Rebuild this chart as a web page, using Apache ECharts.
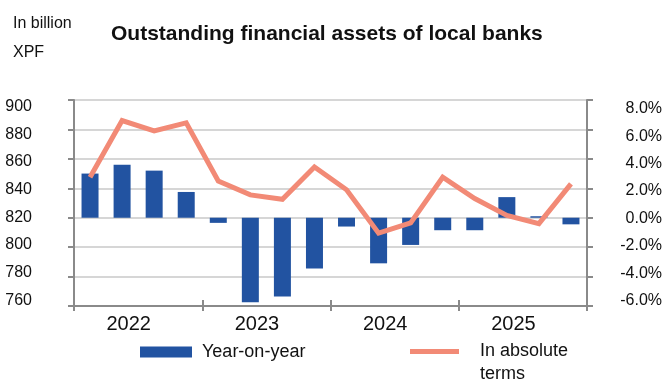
<!DOCTYPE html>
<html>
<head>
<meta charset="utf-8">
<script src="https://cdn.jsdelivr.net/npm/echarts@6/dist/echarts.min.js"></script>
<style>
  html, body { margin: 0; padding: 0; background: #ffffff; }
  #chart { width: 665px; height: 383px; }
</style>
</head>
<body>
<div id="chart"></div>
<script>
// Quarterly outstanding financial assets of local banks
const quarters = [
  'Q1 2022', 'Q2 2022', 'Q3 2022', 'Q4 2022',
  'Q1 2023', 'Q2 2023', 'Q3 2023', 'Q4 2023',
  'Q1 2024', 'Q2 2024', 'Q3 2024', 'Q4 2024',
  'Q1 2025', 'Q2 2025', 'Q3 2025', 'Q4 2025'
];
const years = ['2022', '2023', '2024', '2025'];

// Year-on-year change, in %
const yoyPct = [3.0, 3.6, 3.2, 1.75, -0.35, -5.75, -5.35, -3.45,
                -0.6, -3.1, -1.85, -0.85, -0.85, 1.4, 0.1, -0.45];

// Outstanding amount, in billion XPF
const outstanding = [847.5, 886, 879, 884.5, 845, 835.5, 832.5, 854.5,
                     839, 809.5, 816.5, 847.5, 833, 821.5, 816, 843];

// Axis ranges
const amountAxis = { min: 760, max: 900, interval: 20 };
const pctAxis = { min: -6, max: 8, interval: 2 };

const BLUE = '#2253a1';
const SALMON = '#f28a76';
const AXIS = '#8a8a8a';
const GRID = '#d6d6d6';
const TEXT = '#111111';
const SANS = "'Liberation Sans', Arial, sans-serif";

const chart = echarts.init(document.getElementById('chart'), null, { renderer: 'canvas' });

chart.setOption({
  animation: false,
  backgroundColor: '#ffffff',
  title: [
    {
      text: 'Outstanding financial assets of local banks',
      left: 111, top: 24, padding: 0,
      textStyle: { fontFamily: SANS, fontSize: 21, fontWeight: 'bold', color: TEXT }
    },
    {
      text: 'In billion\nXPF',
      left: 13, top: 9, padding: 0,
      textStyle: { fontFamily: SANS, fontSize: 16, fontWeight: 'normal', color: TEXT, lineHeight: 29, letterSpacing: -0.8 }
    }
  ],
  legend: [
    {
      data: ['Year-on-year'],
      left: 140, top: 343, padding: 0,
      selectedMode: false,
      icon: 'rect', itemWidth: 52, itemHeight: 11,
      textStyle: { fontFamily: SANS, fontSize: 18, color: TEXT, padding: [0, 0, 0, 5] }
    },
    {
      data: ['In absolute terms'],
      left: 410, top: 317, padding: 0,
      selectedMode: false,
      icon: 'rect', itemWidth: 49, itemHeight: 5,
      // label wraps under its first line, which sits level with the swatch
      formatter: () => '\nIn absolute\nterms',
      textStyle: { fontFamily: SANS, fontSize: 18, color: TEXT, lineHeight: 23, padding: [0, 0, 0, 16] }
    }
  ],
  grid: [
    { left: 74, right: 78, top: 100, bottom: 77 },      // plot area
    { left: 74, right: 78, top: 106.5, bottom: 82.5 },  // left value labels
    { left: 74, right: 78, top: 108.7, bottom: 82.3 }   // right value labels
  ],
  xAxis: [
    {
      type: 'category', gridIndex: 0, data: quarters, boundaryGap: true,
      axisLine: { show: true, onZero: false, lineStyle: { color: AXIS, width: 2 } },
      axisTick: { show: true, interval: 3, length: 5, lineStyle: { color: AXIS, width: 2 } },
      axisLabel: { show: false }
    },
    {
      type: 'category', gridIndex: 0, data: years, boundaryGap: true, position: 'bottom',
      axisLine: { show: false, onZero: false },
      axisTick: { show: true, inside: true, length: 6, lineStyle: { color: AXIS, width: 2 } },
      axisLabel: {
        show: true, margin: 8, padding: [0, 19, 0, 0],
        fontFamily: SANS, fontSize: 20, letterSpacing: -1.5, color: TEXT
      }
    },
    { type: 'category', gridIndex: 1, data: years, show: false },
    { type: 'category', gridIndex: 2, data: years, show: false }
  ],
  yAxis: [
    {
      type: 'value', gridIndex: 0, position: 'left',
      min: amountAxis.min, max: amountAxis.max, interval: amountAxis.interval,
      axisLine: { show: true, lineStyle: { color: AXIS, width: 2 } },
      axisTick: { show: true, length: 6, lineStyle: { color: AXIS, width: 2 } },
      axisLabel: { show: false },
      splitLine: { show: true, lineStyle: { color: GRID, width: 2 } }
    },
    {
      type: 'value', gridIndex: 0, position: 'right',
      min: pctAxis.min, max: pctAxis.max, interval: pctAxis.interval,
      axisLine: { show: true, lineStyle: { color: AXIS, width: 2 } },
      axisTick: { show: true, length: 6, lineStyle: { color: AXIS, width: 2 } },
      axisLabel: { show: false },
      splitLine: { show: false }
    },
    {
      type: 'value', gridIndex: 1, position: 'left',
      min: amountAxis.min, max: amountAxis.max, interval: amountAxis.interval,
      axisLine: { show: false }, axisTick: { show: false }, splitLine: { show: false },
      axisLabel: { show: true, margin: 42, fontFamily: SANS, fontSize: 16, color: TEXT }
    },
    {
      type: 'value', gridIndex: 2, position: 'right',
      min: pctAxis.min, max: pctAxis.max, interval: pctAxis.interval,
      axisLine: { show: false }, axisTick: { show: false }, splitLine: { show: false },
      axisLabel: {
        show: true, margin: 77, align: 'right',
        fontFamily: SANS, fontSize: 16, color: TEXT,
        formatter: v => v.toFixed(1) + '%'
      }
    }
  ],
  series: [
    {
      name: 'Year-on-year', type: 'bar',
      xAxisIndex: 0, yAxisIndex: 1,
      data: yoyPct, barWidth: 17,
      itemStyle: { color: BLUE },
      z: 2
    },
    {
      name: 'In absolute terms', type: 'line',
      xAxisIndex: 0, yAxisIndex: 0,
      data: outstanding, symbol: 'none',
      lineStyle: { color: SALMON, width: 5, join: 'miter', cap: 'butt' },
      itemStyle: { color: SALMON },
      z: 3
    }
  ]
});
</script>
</body>
</html>
